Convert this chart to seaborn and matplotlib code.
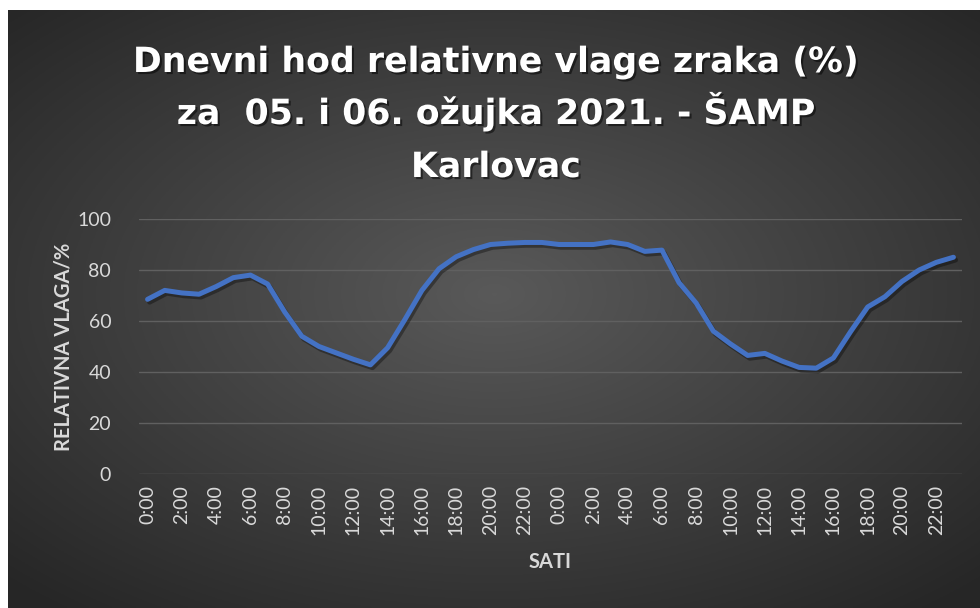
import numpy as np
import pandas as pd
import matplotlib
matplotlib.use('Agg')
import matplotlib.pyplot as plt
import matplotlib.patheffects as pe
import seaborn as sns

# ==========================================
# 数据：两天逐时相对湿度 (%)
# ==========================================
hours = [f"{h}:00" for h in range(24)] * 2
humidity_day1 = [68.5, 72, 71, 70.5, 73.5, 77, 78, 74.5, 63.5, 54, 50, 47.5,
                 45, 42.8, 49.5, 60.5, 72, 80.5, 85.2, 88, 90, 90.5, 90.8, 90.8]
humidity_day2 = [90, 90, 90, 91, 90, 87.3, 87.8, 75, 67, 56, 51, 46.5,
                 47.3, 44.3, 41.8, 41.5, 45.5, 55.8, 65.5, 69.5, 75.5, 80, 83, 85]
title_lines = ["Dnevni hod relativne vlage zraka (%)",
               "za  05. i 06. ožujka 2021. - ŠAMP",
               "Karlovac"]
y_label = "RELATIVNA VLAGA/%"
x_label = "SATI"

df = pd.DataFrame({
    "idx": np.arange(len(hours)),
    "sat": hours,
    "vlaga": humidity_day1 + humidity_day2,
})

# ==========================================
# 样式
# ==========================================
sns.set_theme(style="dark")
plt.rcParams['font.family'] = ['Lato', 'DejaVu Sans']
txt_col = "#D9D9D9"

fig = plt.figure(figsize=(9.8, 6.08), dpi=100, facecolor="white")

# 背景：径向渐变
bg = fig.add_axes([8 / 980, 0, 972 / 980, 598 / 608])
gx, gy = np.meshgrid(np.linspace(-1, 1, 400), np.linspace(-1, 1, 260))
r = np.sqrt(((gx - 0.0) / 1.1) ** 2 + ((gy + 0.05) / 1.05) ** 2)
shade = 0.35 - 0.2 * np.clip(r, 0, 1.3) / 1.3
bg.imshow(np.dstack([shade] * 3), aspect="auto", extent=[0, 1, 0, 1])
bg.set_axis_off()

ax = fig.add_axes([139 / 980, 1 - 474 / 608, 823 / 980, 255 / 608])
ax.set_facecolor("none")

sns.lineplot(data=df, x="idx", y="vlaga", ax=ax, color="#4472C4", linewidth=3.6,
             solid_capstyle="round", solid_joinstyle="round",
             path_effects=[pe.SimpleLineShadow(offset=(1.5, -2), alpha=0.35, shadow_color="black"),
                           pe.Normal()])

ax.set_xlim(-0.5, len(hours) - 0.5)
ax.set_ylim(0, 100)
ax.set_yticks(range(0, 101, 20))
ax.set_xticks(df["idx"][::2])
ax.set_xticklabels(df["sat"][::2], rotation=90)
ax.tick_params(axis="both", colors=txt_col, labelsize=14, length=0)
ax.tick_params(axis="y", pad=20)
ax.tick_params(axis="x", pad=8)
ax.grid(axis="y", color="#606060", linewidth=1)
ax.grid(axis="x", visible=False)
for s in ax.spines.values():
    s.set_visible(False)

ax.set_ylabel(y_label, color=txt_col, fontsize=14.5, fontweight="bold", labelpad=3)
ax.set_xlabel(x_label, color=txt_col, fontsize=14.5, fontweight="bold", labelpad=12)

# 标题：逐行放置（基线像素位置）
for line, base_y in zip(title_lines, [72, 124, 177]):
    fig.text(496 / 980, 1 - base_y / 608, line, ha="center", va="baseline",
             color="white", fontsize=25, fontweight="bold",
             family=["DejaVu Sans"],
             path_effects=[pe.withSimplePatchShadow(offset=(1.5, -1.5), alpha=0.5,
                                                    shadow_rgbFace="black")])

fig.savefig("out.png", dpi=100, facecolor="white")
